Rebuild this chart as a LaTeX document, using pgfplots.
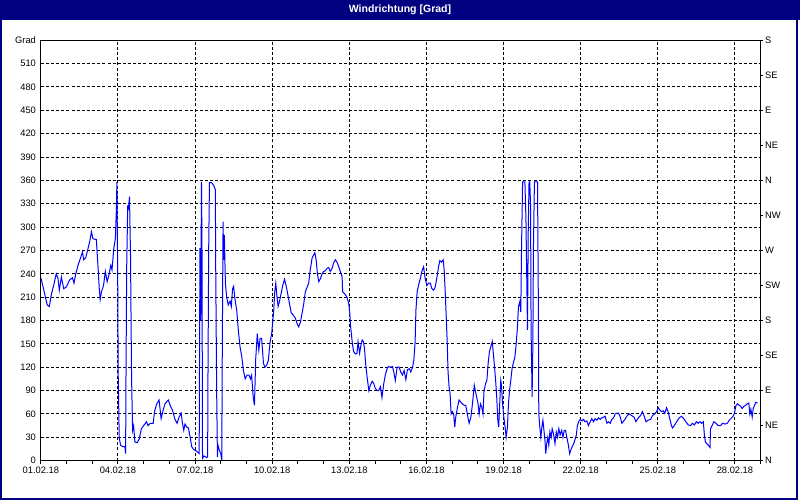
\documentclass[border=0pt]{standalone}
\usepackage{fontspec}
\setmainfont{Liberation Sans}
\usepackage{pgfplots}
\pgfplotsset{compat=1.18}
\definecolor{navy}{RGB}{0,0,128}
\definecolor{lineblue}{RGB}{0,0,255}
\begin{document}
\begin{tikzpicture}[x=0.75pt,y=0.75pt]
\useasboundingbox (0,0) rectangle (800,500);
\fill[white] (0,0) rectangle (800,500);
\fill[navy] (0,479.5) rectangle (800,500);
\draw[navy,line width=1.1pt] (1,480) -- (1,1) -- (797,1) -- (797,480);
\node[white,font=\bfseries\fontsize{7.9}{9}\selectfont] at (400,490) {Windrichtung [Grad]};
\begin{axis}[
  at={(30.6pt,29.5pt)}, anchor=south west,
  scale only axis, width=539.9pt, height=315.3pt,
  xmin=0, xmax=28, ymin=0, ymax=540,
  xtick={0,3,...,27},
  xticklabels={01.02.18,04.02.18,07.02.18,10.02.18,13.02.18,16.02.18,19.02.18,22.02.18,25.02.18,28.02.18},
  minor xtick={1,2,...,28},
  ytick={0,30,...,540},
  yticklabels={0,30,60,90,120,150,180,210,240,270,300,330,360,390,420,450,480,510,Grad},
  xmajorgrids, ymajorgrids,
  major grid style={black, dash pattern=on 2.25pt off 1.6pt, line width=0.75pt},
  axis line style={black, line width=0.75pt},
  xtick pos=bottom, ytick pos=left,
  tick align=outside,
  ytick style={draw=none},
  xtick style={black, line width=0.75pt},
  major tick length=2.25pt, minor tick length=2.25pt,
  ticklabel style={font=\fontsize{7}{8}\selectfont, text=black},
  yticklabel style={inner xsep=1.2pt},
  xticklabel style={inner ysep=2.5pt},
  /pgf/number format/assume math mode=true,
]
\addplot[lineblue, line width=0.75pt] coordinates {
(0,235)(0.09,223)(0.18,210)(0.25,200)(0.33,198)(0.42,215)(0.5,225)(0.6,240)(0.67,234)(0.72,219)(0.8,236)(0.89,221)(0.99,223)(1.12,232)(1.23,235)(1.29,228)(1.36,240)(1.45,251)(1.55,261)(1.62,268)(1.67,258)(1.75,261)(1.84,273)(1.9,281)(1.97,294)(2.03,285)(2.16,284)(2.23,247)(2.27,223)(2.31,207)(2.36,217)(2.44,225)(2.51,243)(2.58,230)(2.64,237)(2.72,251)(2.77,245)(2.84,273)(2.9,285)(2.94,323)(2.96,358)(2.99,245)(3.01,112)(3.05,30)(3.1,20)(3.19,18)(3.27,18)(3.3,9)(3.31,88)(3.34,247)(3.38,326)(3.41,324)(3.45,339)(3.49,262)(3.53,108)(3.57,39)(3.61,45)(3.66,24)(3.75,23)(3.83,28)(3.91,41)(4.0,45)(4.11,50)(4.17,45)(4.26,48)(4.37,48)(4.43,64)
(4.51,73)(4.6,78)(4.68,54)(4.76,65)(4.83,73)(4.96,78)(5.03,71)(5.12,65)(5.22,53)(5.3,48)(5.38,56)(5.46,61)(5.51,48)(5.56,39)(5.61,47)(5.68,43)(5.74,42)(5.81,30)(5.87,18)(5.95,14)(6.02,13)(6.1,11)(6.16,9)(6.17,95)(6.19,273)(6.22,180)(6.25,358)(6.27,270)(6.29,3)(6.35,6)(6.45,4)(6.49,5)(6.5,93)(6.53,270)(6.56,357)(6.64,357)(6.72,354)(6.79,348)(6.8,264)(6.84,90)(6.87,5)(6.89,20)(6.95,13)(7.0,9)(7.04,1)(7.06,150)(7.09,307)(7.11,258)(7.14,290)(7.18,228)(7.23,210)(7.29,200)(7.36,205)(7.41,198)(7.46,221)(7.5,224)(7.55,208)(7.62,193)(7.69,165)(7.75,146)(7.82,133)(7.88,116)(7.95,105)(8.02,110)(8.1,110)(8.15,105)(8.2,110)(8.26,82)(8.31,71)(8.36,131)(8.42,163)(8.48,142)(8.53,157)(8.59,157)(8.66,125)(8.72,120)(8.79,123)(8.85,129)(8.92,153)(8.98,163)
(9.06,193)(9.1,217)(9.14,228)(9.18,213)(9.23,198)(9.28,204)(9.35,215)(9.41,225)(9.48,233)(9.54,225)(9.6,215)(9.67,202)(9.74,190)(9.82,187)(9.9,183)(9.97,176)(10.03,172)(10.1,178)(10.16,189)(10.23,202)(10.29,217)(10.36,223)(10.42,228)(10.48,245)(10.51,251)(10.55,260)(10.61,264)(10.66,267)(10.71,258)(10.76,240)(10.81,230)(10.88,234)(10.94,240)(11.0,243)(11.07,244)(11.13,247)(11.2,248)(11.26,243)(11.33,247)(11.39,254)(11.46,258)(11.52,255)(11.59,249)(11.65,243)(11.72,236)(11.74,217)(11.8,215)(11.85,213)(11.91,210)(11.98,201)(12.02,189)(12.04,176)(12.08,163)(12.12,150)(12.17,140)(12.24,137)(12.3,138)(12.34,153)(12.4,138)(12.45,148)(12.5,155)(12.55,153)(12.59,144)(12.64,123)(12.69,108)(12.76,90)(12.82,97)(12.89,102)(12.95,99)(13.01,93)(13.08,90)(13.14,90)(13.21,95)(13.27,81)(13.34,99)(13.4,110)(13.47,118)(13.53,121)
(13.61,120)(13.68,121)(13.74,112)(13.79,103)(13.86,120)(13.94,120)(14.0,114)(14.07,110)(14.13,116)(14.2,104)(14.26,117)(14.33,118)(14.39,114)(14.46,120)(14.51,129)(14.56,153)(14.59,193)(14.64,217)(14.69,225)(14.76,234)(14.82,243)(14.89,249)(14.95,234)(15.02,225)(15.08,228)(15.15,228)(15.21,221)(15.28,219)(15.34,223)(15.41,236)(15.47,249)(15.52,257)(15.58,255)(15.65,258)(15.69,245)(15.73,217)(15.77,185)(15.81,150)(15.84,114)(15.88,95)(15.92,86)(15.96,60)(16.01,63)(16.06,59)(16.1,43)(16.14,56)(16.21,69)(16.27,78)(16.34,75)(16.4,73)(16.47,71)(16.53,71)(16.6,58)(16.66,48)(16.73,56)(16.79,73)(16.86,97)(16.9,90)(16.95,82)(17.0,75)(17.05,60)(17.1,73)(17.15,69)(17.2,60)(17.24,90)(17.3,99)(17.35,103)(17.4,125)(17.45,140)(17.5,146)(17.56,153)(17.6,138)(17.65,120)(17.7,99)(17.74,78)(17.77,54)(17.81,43)(17.85,73)(17.89,103)(17.92,97)(17.96,73)(18.01,56)(18.06,43)
(18.1,30)(18.15,43)(18.19,73)(18.23,90)(18.28,103)(18.33,118)(18.39,127)(18.44,133)(18.49,150)(18.54,172)(18.58,198)(18.63,204)(18.67,191)(18.7,275)(18.74,358)(18.79,358)(18.83,358)(18.87,311)(18.91,215)(18.93,168)(18.96,296)(18.99,358)(19.02,358)(19.05,328)(19.07,168)(19.11,82)(19.14,150)(19.16,270)(19.2,358)(19.27,358)(19.32,358)(19.35,215)(19.37,60)(19.41,43)(19.45,30)(19.49,43)(19.53,52)(19.57,39)(19.61,26)(19.64,9)(19.68,22)(19.72,30)(19.76,20)(19.8,37)(19.85,30)(19.89,41)(19.94,35)(20.0,22)(20.05,37)(20.1,30)(20.15,41)(20.2,33)(20.26,39)(20.31,30)(20.36,39)(20.41,39)(20.46,30)(20.51,22)(20.57,9)(20.62,14)(20.67,18)(20.72,21)(20.77,26)(20.83,33)(20.87,45)(20.92,50)(20.98,53)(21.05,51)(21.11,53)(21.17,50)(21.24,51)(21.3,45)(21.37,50)(21.43,54)(21.5,50)(21.56,54)(21.63,52)(21.69,55)(21.76,53)(21.82,55)(21.89,56)(21.95,57)(22.02,48)(22.08,50)(22.15,48)(22.21,53)(22.28,55)(22.34,60)(22.41,61)(22.47,61)(22.54,56)(22.6,48)
(22.72,53)(22.81,58)(22.89,60)(22.98,58)(23.07,56)(23.15,50)(23.24,55)(23.33,58)(23.4,63)(23.46,58)(23.54,50)(23.62,52)(23.72,53)(23.79,58)(23.88,60)(23.95,63)(24.02,68)(24.08,65)(24.14,63)(24.21,64)(24.27,61)(24.34,68)(24.4,63)(24.47,53)(24.53,45)(24.57,42)(24.64,45)(24.73,50)(24.83,55)(24.92,57)(25.01,54)(25.09,50)(25.18,46)(25.27,45)(25.35,48)(25.42,46)(25.5,50)(25.57,48)(25.64,50)(25.7,48)(25.77,50)(25.81,33)(25.85,24)(25.9,22)(25.96,20)(26.03,17)(26.05,41)(26.11,45)(26.18,50)(26.26,48)(26.35,45)(26.44,45)(26.52,48)(26.61,47)(26.7,48)(26.78,52)(26.87,55)(26.93,57)(26.98,61)(27.04,71)(27.1,73)(27.17,71)(27.22,70)(27.28,67)(27.35,70)(27.41,71)(27.48,73)(27.54,74)(27.58,60)(27.62,66)(27.67,56)(27.71,67)(27.76,71)(27.81,75)(27.88,74)
};
\end{axis}
\begin{axis}[
  at={(30.6pt,29.5pt)}, anchor=south west,
  scale only axis, width=539.9pt, height=315.3pt,
  xmin=0, xmax=28, ymin=0, ymax=540,
  axis x line=none, axis y line*=right,
  ytick={0,45,...,540},
  yticklabels={N,NE,E,SE,S,SW,W,NW,N,NE,E,SE,S},
  tick align=outside, major tick length=1.6pt,
  y axis line style={black, line width=0.75pt},
  ytick style={black, line width=0.75pt},
  ticklabel style={font=\fontsize{7}{8}\selectfont, text=black},
  yticklabel style={inner xsep=1.5pt},
]
\end{axis}
\end{tikzpicture}
\end{document}
